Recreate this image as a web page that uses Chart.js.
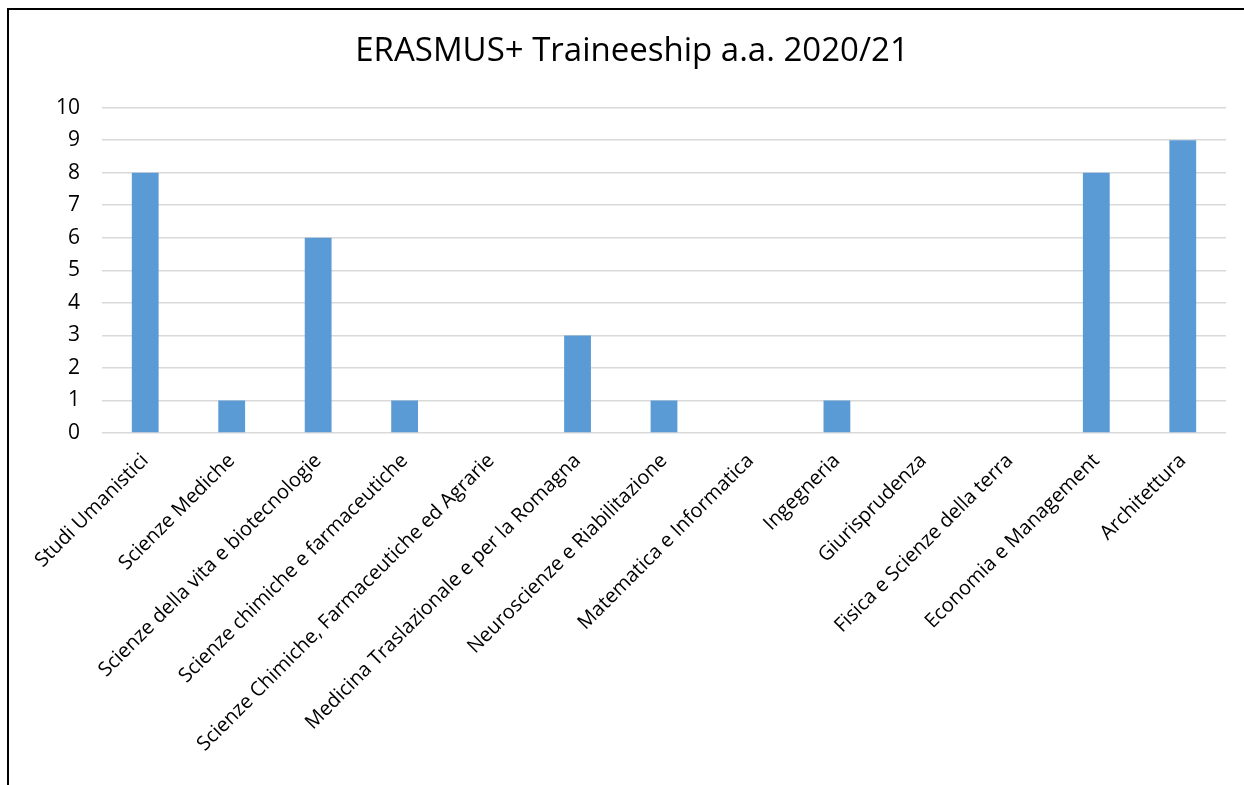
<!DOCTYPE html>
<html>
<head>
<meta charset="utf-8">
<script src="https://cdn.jsdelivr.net/npm/chart.js@4/dist/chart.umd.min.js"></script>
<style>
  html, body { margin: 0; padding: 0; background: #fff; overflow: hidden; }
  #wrap { position: relative; width: 1244px; height: 785px; }
  #frame { position: absolute; left: 7px; top: 8px; width: 1300px; height: 900px;
           border-left: 2px solid #000; border-top: 2px solid #000; }
  #chart { position: absolute; left: 0; top: 0; }
</style>
</head>
<body>
<div id="wrap">
  <div id="frame"></div>
  <canvas id="chart" width="1244" height="785"></canvas>
</div>
<script>
const titleText = 'ERASMUS+ Traineeship a.a. 2020/21';
const categories = [
  'Studi Umanistici',
  'Scienze Mediche',
  'Scienze della vita e biotecnologie',
  'Scienze chimiche e farmaceutiche',
  'Scienze Chimiche, Farmaceutiche ed Agrarie',
  'Medicina Traslazionale e per la Romagna',
  'Neuroscienze e Riabilitazione',
  'Matematica e Informatica',
  'Ingegneria',
  'Giurisprudenza',
  'Fisica e Scienze della terra',
  'Economia e Management',
  'Architettura'
];
const trainees = [8, 1, 6, 1, 0, 3, 1, 0, 1, 0, 0, 8, 9];

const font = '"Open Sans", "Noto Sans", sans-serif';

new Chart(document.getElementById('chart'), {
  type: 'bar',
  data: {
    labels: categories,
    datasets: [{
      data: trainees,
      backgroundColor: '#5b9bd5',
      barPercentage: 0.31,
      categoryPercentage: 1
    }]
  },
  options: {
    responsive: false,
    animation: false,
    layout: { padding: { left: 38, right: 18, top: 0, bottom: 0 } },
    plugins: {
      legend: { display: false },
      tooltip: { enabled: false },
      title: {
        display: true,
        text: titleText,
        color: '#000',
        font: { family: font, size: 33, weight: 'normal' },
        padding: { top: 32, bottom: 36 }
      }
    },
    scales: {
      x: {
        grid: { display: false },
        border: { display: false },
        ticks: {
          color: '#000',
          font: { family: font, size: 20 },
          minRotation: 45,
          maxRotation: 45,
          autoSkip: false,
          padding: 8
        },
        afterFit(scale) { scale.height = 352; }
      },
      y: {
        min: 0,
        max: 10,
        grid: { color: '#d9d9d9', lineWidth: 1.5, drawTicks: false },
        border: { display: false },
        ticks: {
          stepSize: 1,
          color: '#000',
          font: { family: font, size: 21 },
          padding: 22
        },
        afterFit(scale) { scale.width = 64; }
      }
    }
  }
});
</script>
</body>
</html>
